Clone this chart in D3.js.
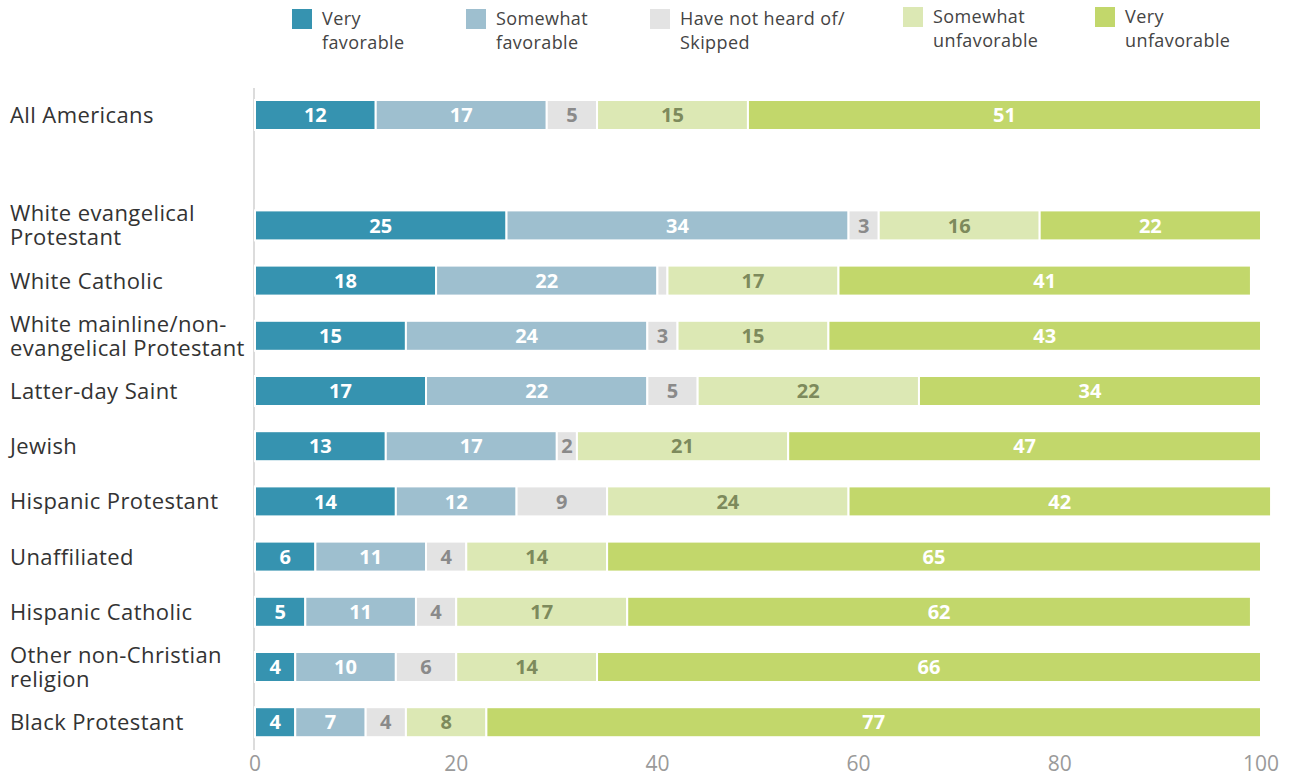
<!DOCTYPE html>
<html lang="en">
<head>
<meta charset="utf-8">
<script src="https://d3js.org/d3.v7.min.js"></script>
<style>
  body { margin: 0; background: #fff; }
  text { font-family: "Open Sans", sans-serif; }
</style>
</head>
<body>
<script>
var width = 1294;
var height = 776;

// chart data
var groups = ["All Americans", "", "White evangelical|Protestant", "White Catholic",
              "White mainline/non-|evangelical Protestant", "Latter-day Saint", "Jewish",
              "Hispanic Protestant", "Unaffiliated", "Hispanic Catholic",
              "Other non-Christian|religion", "Black Protestant"];
var seriesNames = ["Very|favorable", "Somewhat|favorable", "Have not heard of/|Skipped",
                   "Somewhat|unfavorable", "Very|unfavorable"];
var veryFav     = [12, null, 25, 18, 15, 17, 13, 14, 6, 5, 4, 4];
var somewhatFav = [17, null, 34, 22, 24, 22, 17, 12, 11, 11, 10, 7];
var notHeard    = [5,  null, 3, 1, 3, 5, 2, 9, 4, 4, 6, 4];
var somewhatUnf = [15, null, 16, 17, 15, 22, 21, 24, 14, 17, 14, 8];
var veryUnf     = [51, null, 22, 41, 43, 34, 47, 42, 65, 62, 66, 77];
var ticks = [0, 20, 40, 60, 80, 100];

var colors = ["#3693b0", "#9ebfcf", "#e3e3e3", "#dce8b4", "#c2d76b"];
var labelColors = ["#ffffff", "#ffffff", "#8a8a8a", "#7d8a5c", "#ffffff"];

var series = [veryFav, somewhatFav, notHeard, somewhatUnf, veryUnf];

var svg = d3.select("body").append("svg")
    .attr("width", width)
    .attr("height", height);

var x = d3.scaleLinear().domain([0, 100]).range([255, 1261]);
var y = d3.scalePoint().domain(d3.range(groups.length)).range([87.4, 749.8]).padding(0.5);
var barH = 30;

// zero line
svg.append("line")
   .attr("x1", x(0) - 1).attr("x2", x(0) - 1)
   .attr("y1", 88).attr("y2", 750)
   .attr("stroke", "#dcdcdc").attr("stroke-width", 2);

// bars
groups.forEach(function(g, i) {
    if (veryFav[i] == null) return;
    var start = 0;
    series.forEach(function(s, k) {
        var v = s[i];
        var row = svg.append("g");
        row.append("rect")
           .attr("x", x(start))
           .attr("y", y(i) - barH / 2)
           .attr("width", x(start + v) - x(start))
           .attr("height", barH)
           .attr("fill", colors[k])
           .attr("stroke", "#fff")
           .attr("stroke-width", 2);
        if (v >= 2) {
            row.append("text")
               .attr("x", x(start + v / 2))
               .attr("y", y(i))
               .attr("dy", "0.36em")
               .attr("text-anchor", "middle")
               .attr("font-size", 20)
               .attr("font-weight", "bold")
               .attr("fill", labelColors[k])
               .text(v);
        }
        start += v;
    });

    // category label
    var lines = g.split("|");
    var t = svg.append("text")
       .attr("x", 10)
       .attr("y", y(i) - (lines.length - 1) * 12)
       .attr("font-size", 22)
       .attr("letter-spacing", 0.4)
       .attr("fill", "#333");
    lines.forEach(function(l, j) {
        t.append("tspan").attr("x", 10).attr("dy", j == 0 ? "0.36em" : 24).text(l);
    });
});

// x axis tick labels
svg.selectAll(".tick-label")
   .data(ticks)
   .enter().append("text")
   .attr("class", "tick-label")
   .attr("x", function(d) { return x(d); })
   .attr("y", 771)
   .attr("text-anchor", "middle")
   .attr("font-size", 21)
   .attr("fill", "#9a9a9a")
   .text(function(d) { return d; });

// legend
var legendX = [292, 466, 650, 903, 1095];
var legendY = [9, 9, 9, 7, 7];
seriesNames.forEach(function(name, k) {
    svg.append("rect")
       .attr("x", legendX[k]).attr("y", legendY[k])
       .attr("width", 20).attr("height", 20)
       .attr("fill", colors[k]);
    var t = svg.append("text")
       .attr("x", legendX[k] + 30)
       .attr("y", legendY[k] + 10)
       .attr("font-size", 18)
       .attr("letter-spacing", 0.4)
       .attr("fill", "#444");
    name.split("|").forEach(function(l, j) {
        t.append("tspan").attr("x", legendX[k] + 30).attr("dy", j == 0 ? "0.36em" : 24).text(l);
    });
});
</script>
</body>
</html>
